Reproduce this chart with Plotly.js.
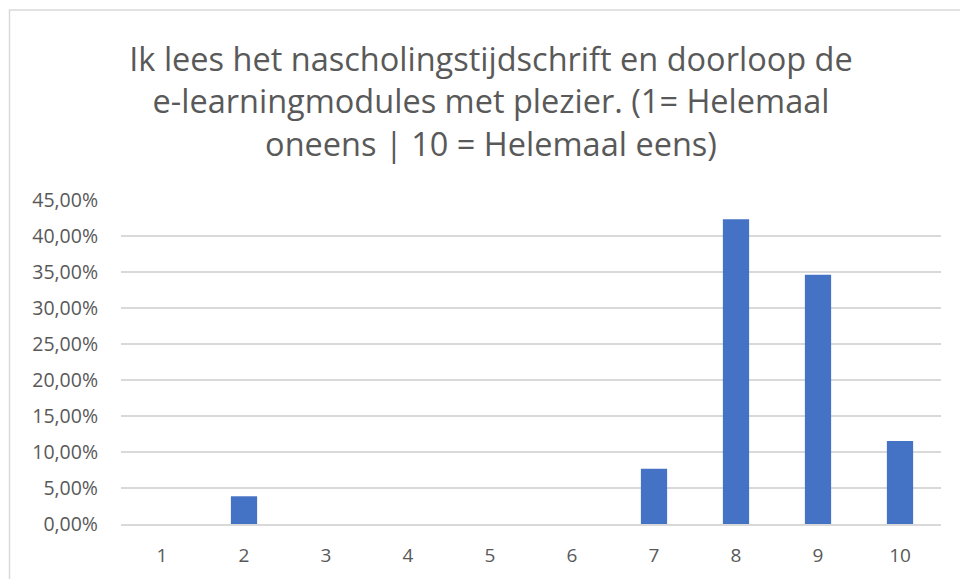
<!DOCTYPE html>
<html>
<head>
<meta charset="utf-8">
<script src="https://cdn.plot.ly/plotly-3.0.1.min.js"></script>
<style>html,body{margin:0;padding:0;background:#fff;}#chart{width:960px;height:579px;}</style>
</head>
<body>
<div id="chart"></div>
<script>
const categories = ['1','2','3','4','5','6','7','8','9','10'];
const values = [0, 0.0385, 0, 0, 0, 0, 0.0769, 0.4231, 0.3462, 0.1154];
const yTicks = [0, 0.05, 0.10, 0.15, 0.20, 0.25, 0.30, 0.35, 0.40, 0.45];
const titleText = 'Ik lees het nascholingstijdschrift en doorloop de<br>e-learningmodules met plezier. (1= Helemaal<br>oneens | 10 = Helemaal eens)';

const trace = {
  type: 'bar',
  x: categories,
  y: values,
  marker: {color: '#4472c4', line: {width: 0}},
  hoverinfo: 'x+y'
};

const layout = {
  width: 960, height: 579,
  paper_bgcolor: '#ffffff', plot_bgcolor: '#ffffff',
  separators: ',.',
  margin: {l: 121, r: 19, t: 200, b: 55, pad: 0},
  bargap: 0.68,
  showlegend: false,
  font: {family: 'Open Sans, sans-serif', color: '#595959'},
  title: {
    text: titleText,
    x: 491 / 960, xanchor: 'center', xref: 'container',
    y: 1 - 71 / 579, yanchor: 'middle', yref: 'container',
    font: {family: 'Open Sans, sans-serif', size: 32.5, color: '#595959'}
  },
  xaxis: {
    type: 'category',
    showgrid: false,
    showline: true, linecolor: '#d9d9d9', linewidth: 1.5,
    ticks: '', tickfont: {size: 19, color: '#595959'},
    ticklabelstandoff: 14, zeroline: false
  },
  yaxis: {
    range: [0, 0.45],
    tickvals: yTicks,
    tickformat: '.2%',
    showgrid: true, gridcolor: '#d9d9d9', gridwidth: 1.5,
    zeroline: false, showline: false,
    ticks: '', tickfont: {size: 19.5, color: '#595959'},
    ticklabelstandoff: 22
  },
  shapes: [{
    type: 'rect', xref: 'paper', yref: 'paper',
    x0: (9.5 - 121) / 820, x1: (962 - 121) / 820,
    y0: -0.3, y1: (524 - 10) / 324,
    line: {color: '#d9d9d9', width: 1.5}, fillcolor: 'rgba(0,0,0,0)', layer: 'below'
  }]
};

Plotly.newPlot('chart', [trace], layout, {displayModeBar: false, staticPlot: true});
</script>
</body>
</html>
